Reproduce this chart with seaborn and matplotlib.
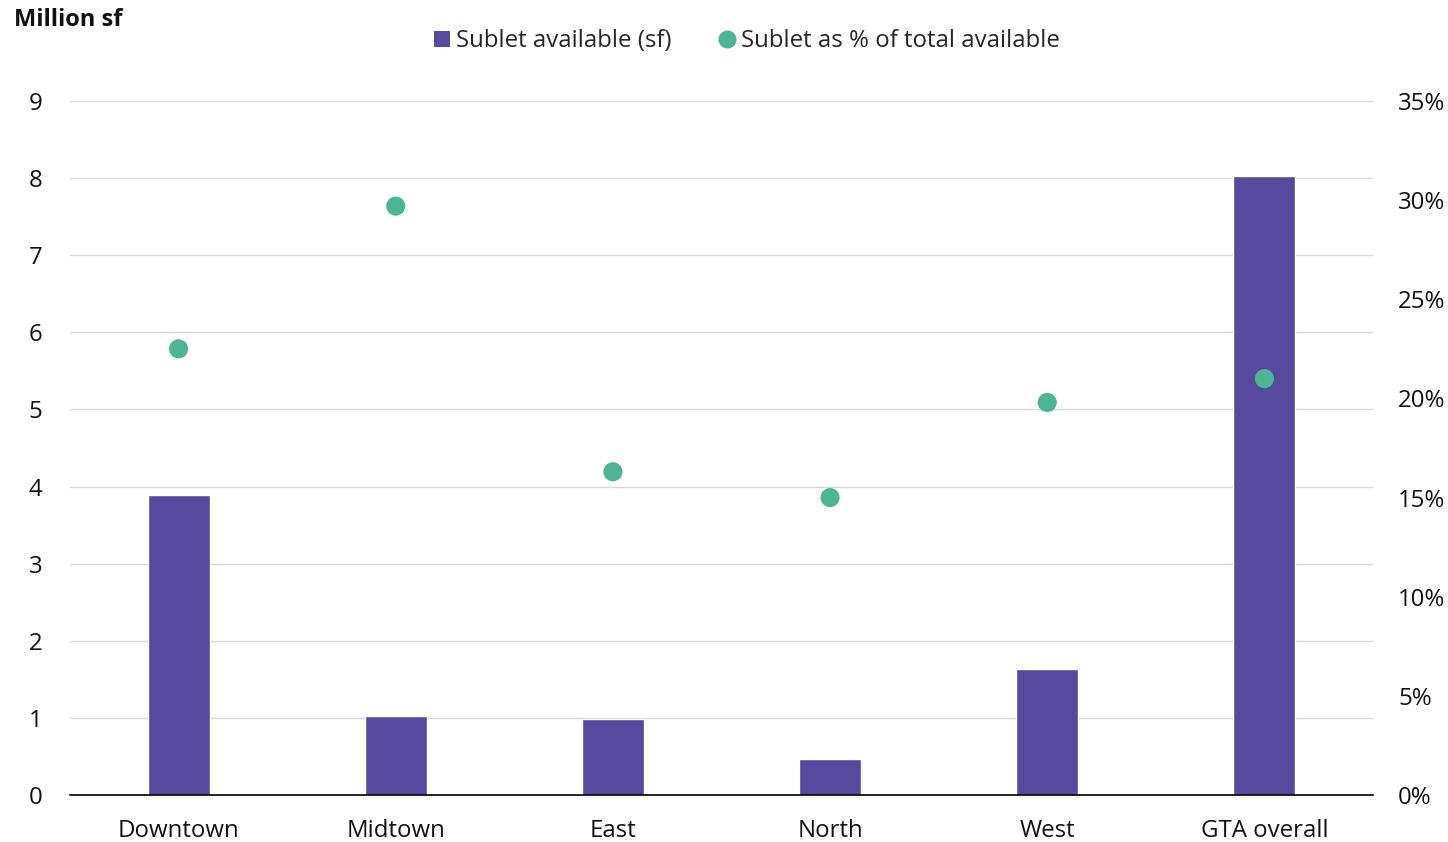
import matplotlib
matplotlib.use("Agg")
import matplotlib.pyplot as plt
from matplotlib.lines import Line2D
from matplotlib.patches import Patch
from matplotlib.ticker import FuncFormatter
import seaborn as sns
import pandas as pd

# Sublet office space by market
regions = ["Downtown", "Midtown", "East", "North", "West", "GTA overall"]
sublet_msf = [3.89, 1.02, 0.99, 0.47, 1.63, 8.03]
sublet_share_pct = [22.5, 29.7, 16.3, 15.0, 19.8, 21.0]

bar_color = "#574A9E"
dot_color = "#4DB594"
label_size = 17.3

df = pd.DataFrame({"region": regions, "sublet": sublet_msf, "share": sublet_share_pct})

sns.set_theme(style="white")
plt.rcParams["font.family"] = ["Open Sans", "DejaVu Sans"]

fig = plt.figure(figsize=(14.48, 8.42), dpi=100)
ax = fig.add_axes([70 / 1448, 1 - 795 / 842, 1303 / 1448, 694 / 842])

sns.barplot(data=df, x="region", y="sublet", color=bar_color, width=0.285,
            saturation=1, ax=ax, zorder=2)
ax.set_xlim(-0.5, len(regions) - 0.5)
ax.set_ylim(0, 9)
ax.set_yticks(range(0, 10))
ax.grid(axis="y", color="#D9D9D9", linewidth=1, zorder=0)
ax.set_axisbelow(True)
for s in ["top", "right", "left"]:
    ax.spines[s].set_visible(False)
ax.spines["bottom"].set_color("black")
ax.spines["bottom"].set_linewidth(1.2)
ax.set_xlabel("")
ax.set_ylabel("")
ax.tick_params(axis="y", length=0, pad=20, labelsize=label_size, labelcolor="#111111")
ax.tick_params(axis="x", length=0, pad=17, labelsize=label_size, labelcolor="#111111")

ax2 = ax.twinx()
sns.scatterplot(data=df, x="region", y="share", color=dot_color, s=190,
                edgecolor="none", ax=ax2, zorder=3, legend=False)
ax2.set_ylim(0, 35)
ax2.set_yticks(range(0, 36, 5))
ax2.yaxis.set_major_formatter(FuncFormatter(lambda v, p: f"{int(v)}%"))
ax2.grid(False)
for s in ["top", "right", "left", "bottom"]:
    ax2.spines[s].set_visible(False)
ax2.set_ylabel("")
ax2.tick_params(axis="y", length=0, pad=18, labelsize=label_size, labelcolor="#111111")

fig.text(14 / 1448, 1 - 20 / 842, "Million sf", fontsize=17, fontweight="bold",
         ha="left", va="center", color="#111111")

handles = [
    Patch(facecolor=bar_color, edgecolor="none", label="Sublet available (sf)"),
    Line2D([0], [0], marker="o", color="none", markerfacecolor=dot_color,
           markeredgecolor="none", markersize=13, label="Sublet as % of total available"),
]
fig.legend(handles=handles, loc="center", bbox_to_anchor=(747 / 1448, 1 - 41 / 842),
           ncol=2, frameon=False, fontsize=label_size, handlelength=0.65, handleheight=0.65,
           handletextpad=0.25, columnspacing=2.0, borderaxespad=0)

fig.savefig("out.png", dpi=100)
